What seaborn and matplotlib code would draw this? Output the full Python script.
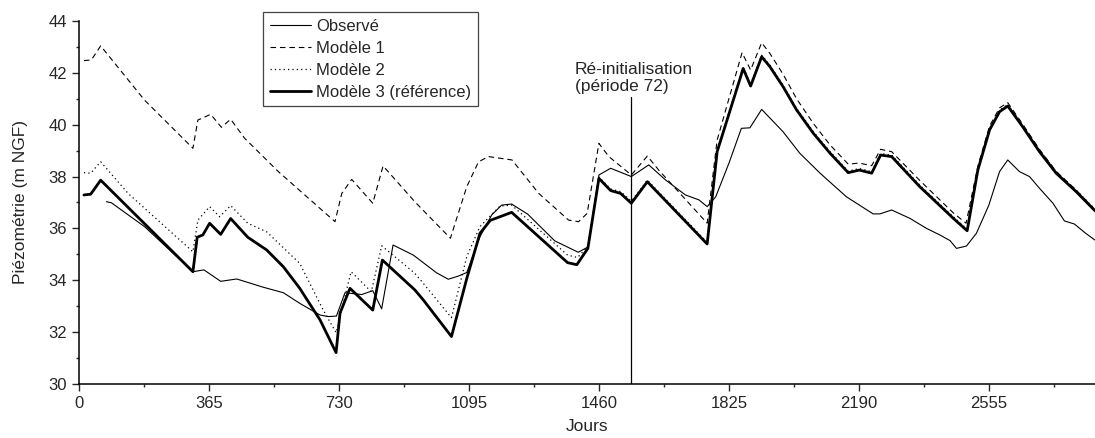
import numpy as np
import pandas as pd
import matplotlib
matplotlib.use("Agg")
import matplotlib.pyplot as plt
from matplotlib.ticker import MultipleLocator
import seaborn as sns

# Observé
obs_x = [77, 91, 184, 320, 351, 398, 443, 518, 574, 620, 677, 700, 723, 747, 794, 825, 850, 882,
         939, 1004, 1037, 1065, 1089, 1126, 1159, 1187, 1215, 1260, 1336, 1402, 1430, 1460, 1493,
         1551, 1600, 1647, 1703, 1741, 1764, 1788, 1825, 1860, 1884, 1917, 1977, 2024, 2081, 2155,
         2230, 2249, 2282, 2333, 2380, 2417, 2446, 2464, 2492, 2520, 2555, 2585, 2608, 2641, 2669,
         2697, 2735, 2767, 2795, 2827, 2853]
obs_y = [37.03, 36.99, 36.07, 34.33, 34.40, 33.96, 34.05, 33.73, 33.52, 33.11, 32.66, 32.60, 32.62,
         33.52, 33.45, 33.60, 32.90, 35.36, 34.97, 34.29, 34.04, 34.16, 34.30, 35.68, 36.52, 36.90,
         36.94, 36.55, 35.52, 35.08, 35.29, 38.06, 38.32, 38.00, 38.45, 37.87, 37.29, 37.10, 36.84,
         37.22, 38.51, 39.86, 39.88, 40.59, 39.73, 38.90, 38.13, 37.22, 36.56, 36.56, 36.71, 36.39,
         36.00, 35.75, 35.53, 35.23, 35.32, 35.81, 36.90, 38.19, 38.64, 38.19, 38.00, 37.55, 36.97,
         36.29, 36.17, 35.81, 35.55]

# Modèle 1
m1_x = [14, 35, 61, 184, 320, 334, 370, 400, 426, 465, 560, 719, 738, 766, 825, 854, 943, 1043,
        1089, 1122, 1150, 1216, 1291, 1375, 1403, 1427, 1460, 1488, 1551, 1596, 1628, 1764, 1792,
        1862, 1886, 1917, 1940, 1977, 2015, 2062, 2109, 2160, 2191, 2226, 2251, 2282, 2361, 2455,
        2491, 2524, 2557, 2585, 2608, 2650, 2697, 2744, 2800, 2853]
m1_y = [42.47, 42.50, 43.04, 40.95, 39.09, 40.18, 40.40, 39.90, 40.21, 39.48, 38.19, 36.26, 37.35,
        37.89, 36.97, 38.41, 37.03, 35.62, 37.61, 38.57, 38.77, 38.64, 37.35, 36.32, 36.26, 36.58,
        39.28, 38.77, 38.06, 38.79, 38.25, 36.20, 39.41, 42.78, 42.11, 43.16, 42.75, 41.95, 41.00,
        40.05, 39.22, 38.48, 38.52, 38.42, 39.05, 38.96, 37.85, 36.60, 36.20, 38.40, 39.95, 40.65,
        40.85, 40.02, 39.05, 38.20, 37.48, 36.72]

# Modèle 2
m2_x = [14, 33, 61, 138, 231, 320, 334, 367, 395, 426, 474, 527, 620, 686, 722, 764, 821, 850,
        943, 967, 1046, 1089, 1126, 1182, 1215, 1372, 1400, 1429, 1460, 1493, 1521, 1551, 1596,
        1764, 1792, 1858, 1865, 1886, 1917, 1940, 1977, 2015, 2062, 2109, 2160, 2191, 2226, 2251,
        2282, 2361, 2455, 2494, 2524, 2557, 2585, 2608, 2650, 2697, 2744, 2800, 2853]
m2_y = [38.15, 38.13, 38.57, 37.35, 36.20, 35.10, 36.32, 36.84, 36.45, 36.88, 36.20, 35.87, 34.65,
        32.85, 31.98, 34.33, 33.56, 35.33, 34.27, 33.88, 32.56, 34.91, 36.07, 36.86, 36.90, 34.97,
        34.88, 35.30, 37.98, 37.52, 37.42, 37.05, 37.86, 35.46, 39.02, 41.92, 42.23, 41.55, 42.68,
        42.30, 41.53, 40.63, 39.73, 38.96, 38.21, 38.31, 38.19, 38.89, 38.83, 37.67, 36.45, 35.97,
        38.31, 39.86, 40.56, 40.78, 39.98, 39.02, 38.19, 37.48, 36.74]

# Modèle 3 (référence)
m3_x = [14, 33, 61, 320, 332, 348, 367, 398, 426, 474, 527, 574, 620, 677, 722, 733, 761, 825,
        852, 943, 967, 1046, 1089, 1126, 1155, 1215, 1372, 1398, 1429, 1460, 1493, 1521, 1551,
        1596, 1764, 1792, 1858, 1865, 1886, 1917, 1940, 1977, 2015, 2062, 2109, 2160, 2191, 2226,
        2251, 2282, 2361, 2455, 2494, 2524, 2557, 2585, 2608, 2650, 2697, 2744, 2800, 2853]
m3_y = [37.29, 37.32, 37.86, 34.33, 35.66, 35.75, 36.20, 35.77, 36.38, 35.66, 35.17, 34.52, 33.69,
        32.47, 31.21, 32.73, 33.69, 32.85, 34.78, 33.63, 33.24, 31.83, 34.07, 35.81, 36.31, 36.62,
        34.68, 34.60, 35.23, 37.93, 37.46, 37.35, 36.97, 37.80, 35.40, 38.96, 41.85, 42.17, 41.49,
        42.62, 42.24, 41.47, 40.57, 39.67, 38.90, 38.15, 38.25, 38.13, 38.83, 38.77, 37.61, 36.39,
        35.91, 38.25, 39.80, 40.50, 40.72, 39.92, 38.96, 38.13, 37.42, 36.68]

reinit_day = 1550
x_ticks = [0, 365, 730, 1095, 1460, 1825, 2190, 2555]

sns.set_style("ticks")
plt.rcParams['font.family'] = ['Liberation Sans', 'DejaVu Sans']

fig = plt.figure(figsize=(10.95, 4.38), dpi=100)
ax = fig.add_axes([0.0721, 0.1233, 0.9279, 0.8288])

sns.lineplot(x=obs_x, y=obs_y, ax=ax, color="black", lw=0.8, sort=False, label="Observé")
sns.lineplot(x=m1_x, y=m1_y, ax=ax, color="black", lw=0.8, sort=False, label="Modèle 1",
             linestyle=(0, (5, 3.5)))
sns.lineplot(x=m2_x, y=m2_y, ax=ax, color="black", lw=0.9, sort=False, label="Modèle 2",
             linestyle=(0, (1, 2.5)))
sns.lineplot(x=m3_x, y=m3_y, ax=ax, color="black", lw=2.0, sort=False,
             label="Modèle 3 (référence)")

# re-initialisation marker
ax.axvline(reinit_day, ymin=0, ymax=(41.05 - 30) / 14, color="black", lw=0.9)
ax.text(1392, 41.8, "Ré-initialisation\n(période 72)", fontsize=12.5, ha="left", va="center",
        linespacing=1.1)

ax.set_xlim(0, 2853)
ax.set_ylim(30, 44)
ax.set_xticks(x_ticks)
ax.xaxis.set_minor_locator(MultipleLocator(182.5))
ax.yaxis.set_major_locator(MultipleLocator(2))
ax.yaxis.set_minor_locator(MultipleLocator(1))
ax.tick_params(axis="both", which="major", direction="out", length=5, width=1, labelsize=12)
ax.tick_params(axis="both", which="minor", direction="out", length=2.5, width=1)
for s in ["top", "right"]:
    ax.spines[s].set_visible(False)
for s in ["left", "bottom"]:
    ax.spines[s].set_linewidth(1.1)
    ax.spines[s].set_color("black")

ax.set_xlabel("Jours", fontsize=12.5, labelpad=6)
ax.set_ylabel("Piézométrie (m NGF)", fontsize=12.5, labelpad=15)

leg = ax.legend(loc="upper left", bbox_to_anchor=(0.181, 1.025), fontsize=12, frameon=True,
                fancybox=False, framealpha=1, edgecolor="#444444", handlelength=2.5,
                borderpad=0.4, labelspacing=0.42, handletextpad=0.3, borderaxespad=0)
leg.get_frame().set_linewidth(0.9)

fig.savefig("out.png", dpi=100)
